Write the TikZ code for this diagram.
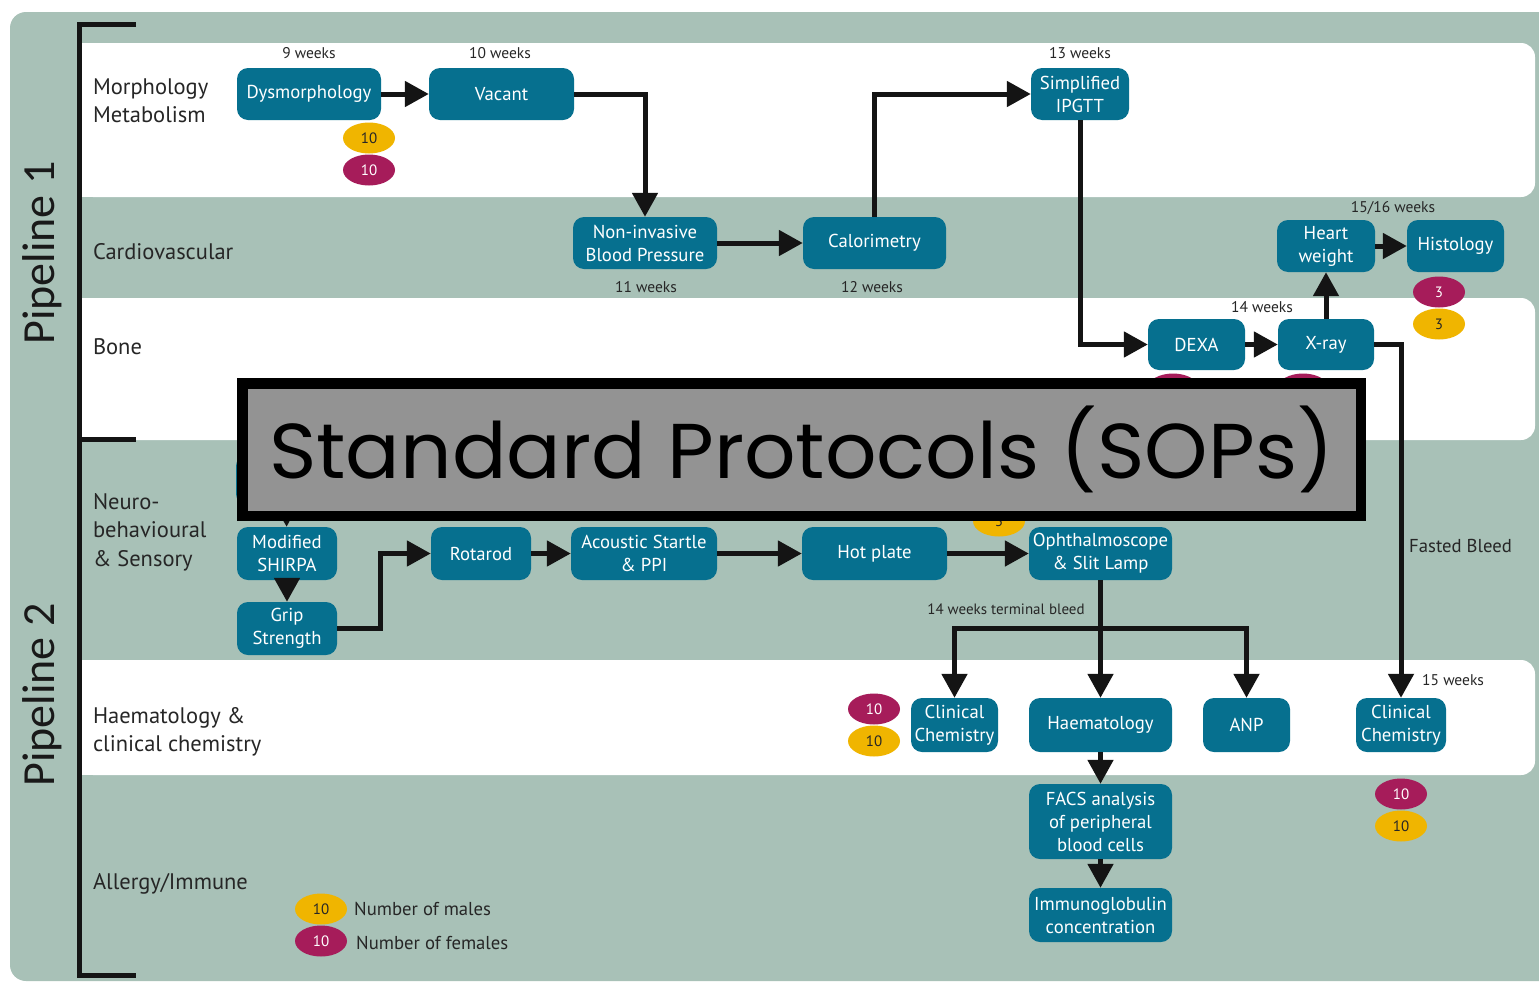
\documentclass[tikz,border=0pt]{standalone}
\usepackage{graphicx}
\usepackage{fontspec}
\setmainfont{PT Sans}
\newfontfamily\pipefont{Carlito}
\newfontfamily\titlefont{Poppins}
\usetikzlibrary{arrows.meta,shapes.geometric}

\definecolor{bandgreen}{RGB}{168,193,183}
\definecolor{procteal}{RGB}{6,112,143}
\definecolor{maleyellow}{RGB}{240,181,0}
\definecolor{femalepink}{RGB}{166,28,90}
\definecolor{labelgrey}{RGB}{38,38,38}
\definecolor{bannergrey}{RGB}{147,147,147}

\begin{document}
\begin{tikzpicture}[x=1pt,y=-1pt,
  proc/.style={fill=procteal, rounded corners=11, text=white, align=center,
    inner sep=0pt, font=\fontsize{18.7}{23}\selectfont},
  count/.style={ellipse, minimum width=52, minimum height=31, inner sep=0pt,
    font=\fontsize{15}{15}\selectfont},
  male/.style={count, fill=maleyellow, text=labelgrey},
  female/.style={count, fill=femalepink, text=white},
  rowlabel/.style={anchor=west, align=left, text=labelgrey,
    font=\fontsize{22.5}{28.5}\selectfont},
  weeks/.style={text=labelgrey, inner sep=0pt, font=\fontsize{15.5}{15.5}\selectfont},
  note/.style={text=labelgrey, inner sep=0pt, anchor=west, font=\fontsize{18.7}{18.7}\selectfont},
  pipe/.style={rotate=90, text=black!90, font=\pipefont\fontsize{46}{46}\selectfont},
  arr/.style={line width=5, draw=black!92, -{Triangle[length=24pt,width=25pt]}},
  link/.style={line width=5, draw=black!92},
]
\useasboundingbox (0,0) rectangle (1539,983);
\fill[white] (0,0) rectangle (1539,983);

% panel and alternating bands
\fill[bandgreen, rounded corners=16] (10,12) rectangle (1570,981);
\foreach \top/\bot in {43/197, 298/440, 660/775} {
  \fill[white, rounded corners=14] (79,\top) rectangle (1535,\bot);
  \fill[white] (79,\top) rectangle (120,\bot);
}

% pipeline brackets
\draw[link, line cap=butt] (136,24) -- (79.5,24) -- (79.5,975) -- (136,975);
\draw[link, line cap=butt] (79.5,439) -- (136,439);
\node[pipe] (p1) at (42,253) {Pipeline 1};
\node[pipe] (p2) at (42,695) {Pipeline 2};

% row labels
\node[rowlabel] (lmorph) at (89.5,101) {Morphology\\Metabolism};
\node[rowlabel] (lcardio) at (89.5,252) {Cardiovascular};
\node[rowlabel] (lbone) at (89.5,347) {Bone};
\node[rowlabel] (lneuro) at (89.5,532) {Neuro-\\behavioural\\\& Sensory};
\node[rowlabel] (lhaem) at (89.5,732) {Haematology \&\\clinical chemistry};
\node[rowlabel] (lallergy) at (89.5,884) {Allergy/Immune};

% procedures
\node[proc, minimum width=144, minimum height=52] (dys) at (309,94) {Dysmorphology};
\node[proc, minimum width=145, minimum height=52] (vac) at (501.5,94) {Vacant};
\node[proc, minimum width=144, minimum height=52] (nibp) at (645,243) {Non-invasive\\Blood Pressure};
\node[proc, minimum width=143, minimum height=52] (cal) at (874.5,243) {Calorimetry};
\node[proc, minimum width=98, minimum height=52] (ipgtt) at (1080,94) {Simplified\\IPGTT};
\node[proc, minimum width=98, minimum height=52] (heart) at (1326,246) {Heart\\weight};
\node[proc, minimum width=97, minimum height=52] (hist) at (1455.5,246) {Histology};
\node[proc, minimum width=97, minimum height=51] (dexa) at (1196.5,344.5) {DEXA};
\node[proc, minimum width=96, minimum height=51] (xray) at (1326,344.5) {X-ray};
\node[proc, minimum width=100, minimum height=50] (hid) at (286,480) {};
\node[proc, minimum width=100, minimum height=53] (shirpa) at (287,553.5) {Modified\\SHIRPA};
\node[proc, minimum width=100, minimum height=53] (grip) at (287,628.5) {Grip\\Strength};
\node[proc, minimum width=100, minimum height=53] (rot) at (481,553.5) {Rotarod};
\node[proc, minimum width=146, minimum height=53] (acou) at (644,553.5) {Acoustic Startle\\\& PPI};
\node[proc, minimum width=145, minimum height=53] (hot) at (874.5,553.5) {Hot plate};
\node[proc, minimum width=143, minimum height=53] (oph) at (1100.5,553.5) {Ophthalmoscope\\\& Slit Lamp};
\node[proc, minimum width=87, minimum height=54] (cca) at (954.5,725) {Clinical\\Chemistry};
\node[proc, minimum width=143, minimum height=54] (haem) at (1100.5,725) {Haematology};
\node[proc, minimum width=87, minimum height=54] (anp) at (1246.5,725) {ANP};
\node[proc, minimum width=90, minimum height=54] (ccb) at (1401,725) {Clinical\\Chemistry};
\node[proc, minimum width=143, minimum height=75] (facs) at (1100.5,821.5) {FACS analysis\\of peripheral\\blood cells};
\node[proc, minimum width=143, minimum height=54] (igc) at (1100.5,915) {Immunoglobulin\\concentration};

% animal numbers
\node[male] (m1) at (369,138) {10};
\node[female] (f1) at (369,170) {10};
\node[female] (f2) at (1439,292) {3};
\node[male] (m2) at (1439,324) {3};
\node[female] (f3) at (874,709) {10};
\node[male] (m3) at (874,741) {10};
\node[female] (f4) at (1401,794) {10};
\node[male] (m4) at (1401,826) {10};
\node[female] (f5) at (1173,389) {};
\node[female] (f6) at (1303,389) {};
\node[male] (m5) at (999,521) {3};

% legend
\node[male] (lm) at (321,909) {10};
\node[female] (lf) at (321,941) {10};
\node[note] (lmt) at (354,909) {Number of males};
\node[note] (lft) at (356,943) {Number of females};

% timing notes
\node[weeks] (w9) at (309,53) {9 weeks};
\node[weeks] (w10) at (500,53) {10 weeks};
\node[weeks] (w13) at (1080,53) {13 weeks};
\node[weeks] (w11) at (646,287) {11 weeks};
\node[weeks] (w12) at (872,287) {12 weeks};
\node[weeks] (w1516) at (1393,208) {15/16 weeks};
\node[weeks] (w14) at (1262,307) {14 weeks};
\node[weeks, font=\fontsize{15}{15}\selectfont] (w14t) at (1006,609) {14 weeks terminal bleed};
\node[weeks, anchor=west] (w15) at (1422,680) {15 weeks};
\node[note] (fasted) at (1409,546) {Fasted Bleed};

% pipeline 1 flow
\draw[arr] (dys) -- (vac);
\draw[arr] (vac.east) -| (nibp.north);
\draw[arr] (nibp) -- (cal);
\draw[arr] (cal.north) |- (ipgtt.west);
\draw[arr] (ipgtt.south) |- (dexa.west);
\draw[arr] (dexa) -- (xray);
\draw[arr] (xray) -- (heart);
\draw[arr] (heart) -- (hist);
\draw[arr] (xray.east) -| (ccb.north);

% pipeline 2 flow
\coordinate (gbend) at (380,617);
\coordinate (split) at (1100.5,628);
\draw[arr] (hid) -- (shirpa);
\draw[arr] (shirpa) -- (grip);
\draw[arr] (grip.east) -- (grip.east -| gbend) |- (rot.west);
\draw[arr] (rot) -- (acou);
\draw[arr] (acou) -- (hot);
\draw[arr] (hot) -- (oph);
\draw[link] (oph.south) -- (split);
\draw[arr] (split) -| (cca.north);
\draw[arr] (split) -| (anp.north);
\draw[arr] (split) -- (haem.north);
\draw[arr] (haem) -- (facs);
\draw[arr] (facs) -- (igc);

% banner
\node[draw=black, line width=10.5, fill=bannergrey, minimum width=1118.5,
  minimum height=132.5, inner sep=0pt] (banner) at (801.5,449.5)
  {\resizebox*{1064pt}{87pt}{\titlefont Standard Protocols (SOPs)}};
\end{tikzpicture}
\end{document}
